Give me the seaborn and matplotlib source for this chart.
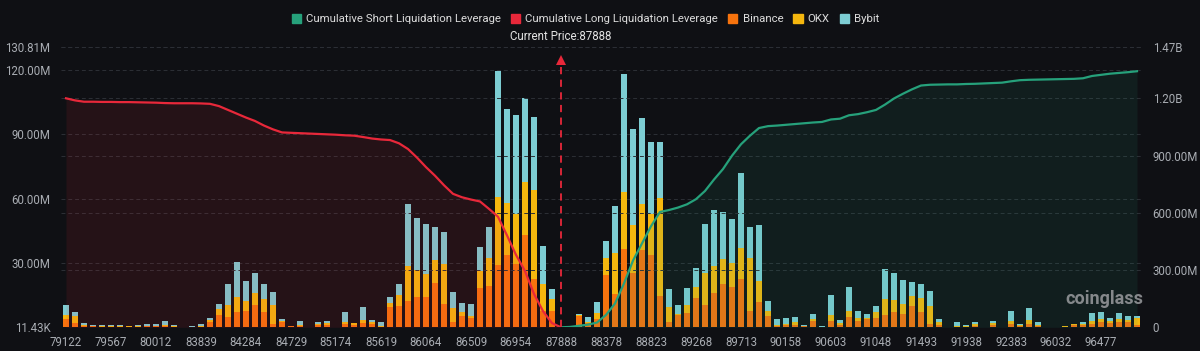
import numpy as np
import pandas as pd
import seaborn as sns
import matplotlib.pyplot as plt
from matplotlib.patches import Patch
from matplotlib.transforms import blended_transform_factory

# liquidation leverage per price level, in millions (120 levels)
binance = [4.0, 2.1, 0.5, 0.6, 0.3, 0.3, 0.3, 0.3, 0.3, 0.4,
           0.4, 0.5, 0.3, 0.1, 0.2, 0.3, 2.6, 5.8, 5.0, 7.0,
           7.8, 10.3, 7.3, 1.6, 2.5, 0.4, 0.6, 0.1, 1.0, 1.3,
           0.2, 1.5, 1.0, 2.0, 1.5, 0.3, 9.7, 10.0, 12.5, 14.3,
           14.3, 20.9, 10.9, 2.6, 5.3, 4.2, 18.2, 19.3, 29.1, 33.8,
           29.6, 43.1, 22.6, 7.8, 7.8, 0.0, 0.0, 5.3, 1.9, 3.7,
           24.3, 15.6, 36.4, 25.2, 36.0, 33.8, 14.6, 2.6, 5.8, 6.5,
           13.5, 10.4, 15.9, 20.1, 19.0, 22.4, 7.8, 12.0, 5.3, 0.6,
           1.0, 1.2, 0.6, 3.1, 0.1, 2.8, 1.2, 4.7, 3.1, 4.1,
           4.5, 5.6, 7.3, 6.1, 10.0, 7.3, 1.4, 1.2, 0.1, 0.3,
           0.2, 0.5, 0.2, 1.2, 0.1, 1.5, 0.8, 1.6, 0.8, 0.03,
           0.1, 0.3, 1.3, 1.3, 1.5, 2.3, 2.0, 2.5, 2.3, 1.0]
okx = [1.6, 3.2, 0.8, 0.2, 0.2, 0.2, 0.2, 0.1, 0.2, 0.3,
       0.3, 0.6, 0.2, 0.05, 0.1, 0.2, 0.8, 2.6, 5.4, 7.0,
       4.5, 5.6, 6.1, 8.6, 0.5, 0.2, 0.4, 0.03, 0.6, 0.5,
       0.05, 1.0, 0.8, 1.5, 0.8, 0.2, 1.6, 5.1, 16.3, 12.5,
       10.5, 10.6, 18.7, 6.6, 2.0, 1.1, 8.3, 12.9, 31.6, 24.1,
       23.3, 24.5, 41.5, 12.3, 5.3, 0.0, 0.0, 0.6, 0.8, 2.8,
       8.2, 19.3, 26.8, 22.4, 21.4, 19.2, 45.7, 7.1, 0.4, 3.9,
       5.2, 14.8, 12.8, 12.0, 11.2, 14.8, 24.6, 9.7, 2.3, 0.5,
       0.6, 1.5, 0.2, 0.8, 0.1, 3.1, 0.9, 2.8, 1.2, 0.4,
       2.5, 7.7, 5.3, 5.0, 4.5, 6.5, 8.4, 1.5, 0.1, 0.3,
       0.2, 0.9, 0.05, 0.8, 0.05, 1.5, 0.3, 1.7, 0.3, 0.01,
       0.03, 0.1, 0.1, 0.3, 1.6, 1.6, 0.8, 1.5, 0.9, 3.3]
bybit = [4.8, 1.7, 0.6, 0.1, 0.4, 0.4, 0.4, 0.1, 0.4, 0.7,
         0.7, 2.0, 0.4, 0.05, 0.1, 0.9, 1.1, 2.3, 9.7, 16.6,
         9.5, 9.3, 7.0, 6.5, 0.7, 0.2, 2.1, 0.02, 1.0, 1.2,
         0.05, 4.5, 0.4, 5.8, 1.1, 1.8, 3.0, 5.0, 28.8, 24.1,
         23.3, 15.5, 14.8, 7.1, 3.9, 5.6, 11.2, 14.8, 58.7, 43.9,
         46.3, 39.4, 34.0, 17.9, 5.0, 0.0, 0.0, 0.3, 2.0, 5.3,
         7.7, 21.9, 55.0, 44.9, 40.2, 33.7, 26.0, 8.0, 4.4, 8.1,
         9.0, 23.1, 26.0, 21.5, 20.2, 34.7, 14.5, 26.1, 4.7, 2.6,
         2.6, 2.3, 0.1, 2.2, 0.4, 9.0, 1.2, 11.2, 3.2, 1.7,
         2.8, 13.9, 12.6, 11.2, 6.5, 6.3, 7.0, 1.0, 0.1, 2.0,
         0.7, 0.9, 0.05, 1.0, 0.05, 4.5, 0.6, 5.7, 1.5, 0.01,
         0.02, 0.2, 0.2, 0.9, 3.4, 3.3, 1.6, 2.5, 2.2, 1.0]

# cumulative leverage curves, in millions
long_cum = [1201, 1190, 1183, 1183, 1182, 1182, 1181, 1181, 1180, 1179,
            1178, 1176, 1175, 1175, 1175, 1174, 1172, 1160, 1140, 1120,
            1100, 1082, 1058, 1038, 1022, 1020, 1018, 1016, 1014, 1012,
            1010, 1007, 1005, 998, 990, 985, 982, 965, 935, 890,
            840, 795, 745, 700, 682, 670, 660, 621, 580, 482,
            380, 295, 175, 85, 22, 0]
short_cum = [0, 2, 8, 14, 25, 65, 125, 230, 350, 440,
             530, 605, 615, 628, 645, 672, 715, 775, 830, 900,
             960, 1005, 1045, 1055, 1058, 1062, 1066, 1070, 1074, 1077,
             1090, 1094, 1112, 1118, 1128, 1140, 1168, 1200, 1225, 1248,
             1268, 1272, 1273, 1274, 1274, 1276, 1277, 1279, 1281, 1283,
             1290, 1296, 1298, 1299, 1300, 1301, 1302, 1303, 1306, 1318,
             1324, 1330, 1334, 1338, 1343]

tick_labels = ["79122", "79567", "80012", "83839", "84284", "84729", "85174",
               "85619", "86064", "86509", "86954", "87888", "88378", "88823",
               "89268", "89713", "90158", "90603", "91048", "91493", "91938",
               "92383", "96032", "96477"]
current_price = "87888"

left_ticks = [0, 30, 60, 90, 120, 130.81]
left_labels = ["11.43K", "30.00M", "60.00M", "90.00M", "120.00M", "130.81M"]
right_ticks = [0, 300, 600, 900, 1200, 1470]
right_labels = ["0", "300.00M", "600.00M", "900.00M", "1.20B", "1.47B"]

c_bin, c_okx, c_byb = "#F7730D", "#F5B70E", "#7DCDD3"
c_long, c_short = "#E8283A", "#26A17B"
bg = "#0f1014"
grid_c = "#2c2f36"
txt_c = "#a9adb3"

n = len(binance)
idx = np.arange(n)
df = pd.DataFrame({"idx": idx, "binance": binance, "okx": okx, "bybit": bybit})
df["b_o"] = df["binance"] + df["okx"]
df["total"] = df["b_o"] + df["bybit"]
cp_idx = tick_labels.index(current_price) * 5
step = n // len(tick_labels)

plt.rcParams["font.family"] = ["Roboto", "DejaVu Sans"]
fig = plt.figure(figsize=(12, 3.51), dpi=100, facecolor=bg)
ax = fig.add_axes([0.05125, 0.0675, 0.9, 0.7986])
ax.set_facecolor(bg)

for col, c in [("total", c_byb), ("b_o", c_okx), ("binance", c_bin)]:
    sns.barplot(data=df, x="idx", y=col, color=c, saturation=1, width=0.66,
                errorbar=None, linewidth=0, ax=ax)

ax.set_ylim(0, 130.81)
ax.set_yticks(left_ticks)
ax.set_yticklabels(left_labels)

ax2 = ax.twinx()
long_x = idx[:len(long_cum)]
short_x = idx[n - len(short_cum):]
sns.lineplot(x=long_x, y=long_cum, color=c_long, lw=1.6, ax=ax2)
sns.lineplot(x=short_x, y=short_cum, color=c_short, lw=1.6, ax=ax2)
ax2.fill_between(long_x, long_cum, 0, color=c_long, alpha=0.1, lw=0)
ax2.fill_between(short_x, short_cum, 0, color=c_short, alpha=0.1, lw=0)
ax2.set_ylim(0, 1470)
ax2.set_yticks(right_ticks)
ax2.set_yticklabels(right_labels)

ax.set_xlim(-0.5, n - 0.5)
ax.set_xticks(idx[::step])
ax.set_xticklabels(tick_labels)

for a in (ax, ax2):
    a.set_xlabel("")
    a.set_ylabel("")
    for s in a.spines.values():
        s.set_visible(False)
    a.tick_params(length=0, colors=txt_c, labelsize=8.3)
    a.grid(axis="y", color=grid_c, linestyle=(0, (4, 3)), linewidth=0.7)
    a.set_axisbelow(True)
ax.tick_params(axis="y", pad=8)
ax.tick_params(axis="x", pad=6)
ax2.tick_params(axis="y", pad=8)
ax.grid(axis="x", visible=False)
ax2.grid(axis="x", visible=False)

# current price marker
tr = blended_transform_factory(ax.transData, ax.transAxes)
ax2.plot([cp_idx, cp_idx], [0, 0.95], transform=tr, color=c_long,
         lw=1.3, linestyle=(0, (4, 3)))
ax2.plot([cp_idx], [0.955], transform=tr, marker="^", color=c_long, ms=7,
         mew=0)
ax2.text(cp_idx, 1.038, "Current Price:" + current_price, transform=tr,
         ha="center", va="center", color="#e4e4e4", fontsize=8.3)

handles = [Patch(color=c_short), Patch(color=c_long), Patch(color=c_bin),
           Patch(color=c_okx), Patch(color=c_byb)]
labels = ["Cumulative Short Liquidation Leverage",
          "Cumulative Long Liquidation Leverage", "Binance", "OKX", "Bybit"]
fig.legend(handles, labels, loc="center", bbox_to_anchor=(0.488, 0.946),
           ncol=5, frameon=False, fontsize=8.2, handlelength=0.8,
           handleheight=0.8, columnspacing=0.9, handletextpad=0.45,
           labelcolor="#dcdcdc")

fig.text(0.92, 0.148, "coinglass", color="#9a9c9f", fontsize=13,
         fontweight="bold", ha="center", va="center", alpha=0.85)

fig.savefig("out.png", dpi=100, facecolor=bg)
